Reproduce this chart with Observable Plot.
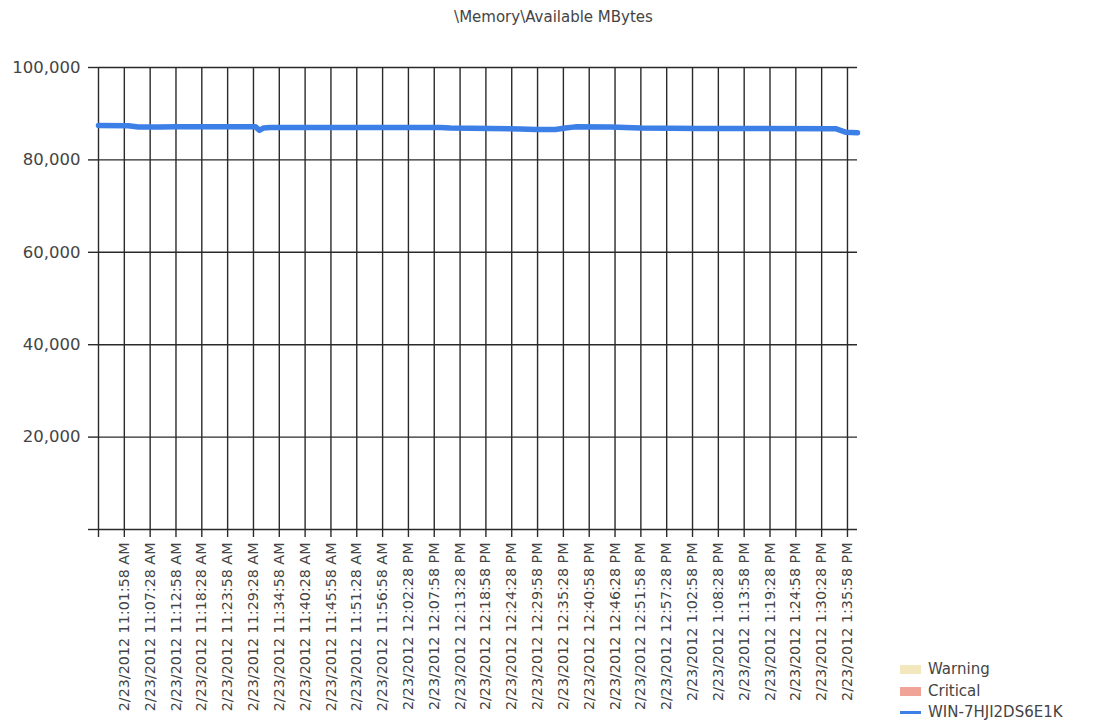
<!DOCTYPE html>
<html>
<head>
<meta charset="utf-8">
<script src="https://cdn.jsdelivr.net/npm/d3@7"></script>
<script src="https://cdn.jsdelivr.net/npm/@observablehq/plot@0.6"></script>
<style>
  body { margin: 0; background: #fff; font-family: "DejaVu Sans", sans-serif; }
  #wrap { position: relative; width: 1093px; height: 727px; overflow: hidden; }
  #title { height: 40px; box-sizing: border-box; padding-top: 9px; padding-left: 14px; text-align: center; font-size: 15px; line-height: 16px; color: #444; }
  #legend { position: absolute; left: 900px; top: 659px; font-size: 15px; color: #444; line-height: 21.5px; }
  #legend .row { display: flex; align-items: center; }
  #legend .sw { width: 21px; height: 9px; margin-right: 7px; }
  #legend .ln { width: 21px; height: 3px; margin: 3px 7px 3px 0; }
</style>
</head>
<body>
<div id="wrap">
  <div id="title"></div>
  <div id="chart"></div>
  <div id="legend"></div>
</div>
<script>
const chartTitle = "\\Memory\\Available MBytes";

// x-axis tick labels
const xTickLabels = [
  "2/23/2012 11:01:58 AM", "2/23/2012 11:07:28 AM", "2/23/2012 11:12:58 AM",
  "2/23/2012 11:18:28 AM", "2/23/2012 11:23:58 AM", "2/23/2012 11:29:28 AM",
  "2/23/2012 11:34:58 AM", "2/23/2012 11:40:28 AM", "2/23/2012 11:45:58 AM",
  "2/23/2012 11:51:28 AM", "2/23/2012 11:56:58 AM", "2/23/2012 12:02:28 PM",
  "2/23/2012 12:07:58 PM", "2/23/2012 12:13:28 PM", "2/23/2012 12:18:58 PM",
  "2/23/2012 12:24:28 PM", "2/23/2012 12:29:58 PM", "2/23/2012 12:35:28 PM",
  "2/23/2012 12:40:58 PM", "2/23/2012 12:46:28 PM", "2/23/2012 12:51:58 PM",
  "2/23/2012 12:57:28 PM", "2/23/2012 1:02:58 PM", "2/23/2012 1:08:28 PM",
  "2/23/2012 1:13:58 PM", "2/23/2012 1:19:28 PM", "2/23/2012 1:24:58 PM",
  "2/23/2012 1:30:28 PM", "2/23/2012 1:35:58 PM"
];

// time range shown
const xRange = ["2/23/2012 10:56:28 AM", "2/23/2012 1:38:06 PM"];

// y-axis ticks
const yTicks = [0, 20000, 40000, 60000, 80000, 100000];

// series: WIN-7HJI2DS6E1K
const seriesName = "WIN-7HJI2DS6E1K";
const seriesTimes = [
  "2/23/2012 10:56:28 AM", "2/23/2012 11:02:49 AM", "2/23/2012 11:04:57 AM",
  "2/23/2012 11:09:38 AM", "2/23/2012 11:12:50 AM", "2/23/2012 11:29:52 AM",
  "2/23/2012 11:30:43 AM", "2/23/2012 11:31:34 AM", "2/23/2012 11:33:04 AM",
  "2/23/2012 12:09:16 PM", "2/23/2012 12:11:24 PM", "2/23/2012 12:19:55 PM",
  "2/23/2012 12:26:19 PM", "2/23/2012 12:29:31 PM", "2/23/2012 12:33:46 PM",
  "2/23/2012 12:35:54 PM", "2/23/2012 12:38:02 PM", "2/23/2012 12:45:29 PM",
  "2/23/2012 12:51:52 PM", "2/23/2012 1:04:39 PM", "2/23/2012 1:33:25 PM",
  "2/23/2012 1:35:32 PM", "2/23/2012 1:38:06 PM"
];
const seriesValues = [
  87450, 87400, 87100,
  87100, 87200, 87200,
  86400, 86900, 87000,
  87000, 86900, 86800,
  86700, 86600, 86600,
  86900, 87150, 87100,
  86900, 86800, 86750,
  86000, 85900
];

// legend entries
const legendLabels = ["Warning", "Critical", seriesName];
const legendColors = ["#f3e8bd", "#f0a397", "#3c7fe6"];

const parse = d3.utcParse("%m/%d/%Y %I:%M:%S %p");
const xTicks = xTickLabels.map(parse);
const xDomain = xRange.map(parse);
const data = seriesTimes.map((t, i) => ({time: parse(t), value: seriesValues[i]}));
const axisTicks = [xDomain[0], ...xTicks];
const axisLabels = ["", ...xTickLabels];

document.getElementById("title").textContent = chartTitle;

const fmtY = d3.format(",");
const gridColor = "#2a2a2a";

const plot = Plot.plot({
  width: 1093,
  height: 687,
  marginLeft: 98,
  marginRight: 236,
  marginTop: 27,
  marginBottom: 198,
  style: {fontFamily: "DejaVu Sans, sans-serif", background: "#fff"},
  x: {type: "utc", domain: xDomain},
  y: {domain: [0, 100000]},
  marks: [
    Plot.ruleY(yTicks, {stroke: gridColor, strokeWidth: 1.4}),
    Plot.ruleX(axisTicks, {stroke: gridColor, strokeWidth: 1.4}),
    Plot.axisY({
      ticks: yTicks,
      tickSize: 10,
      tickPadding: 8,
      tickFormat: d => d === 0 ? "" : fmtY(d),
      fontSize: 16.5,
      fill: "#444",
      stroke: gridColor,
      strokeWidth: 1.4,
      label: null
    }),
    Plot.axisX({
      ticks: axisTicks,
      tickSize: 8,
      tickPadding: 5,
      tickRotate: -90,
      tickFormat: (d, i) => axisLabels[i],
      fontSize: 14.3,
      fill: "#444",
      stroke: gridColor,
      strokeWidth: 1.4,
      label: null
    }),
    Plot.line(data, {x: "time", y: "value", stroke: legendColors[2], strokeWidth: 5.5})
  ]
});
document.getElementById("chart").appendChild(plot);

const legend = document.getElementById("legend");
legendLabels.forEach((lab, i) => {
  const row = document.createElement("div");
  row.className = "row";
  const sw = document.createElement("span");
  sw.className = i === 2 ? "ln" : "sw";
  sw.style.background = legendColors[i];
  const tx = document.createElement("span");
  tx.textContent = lab;
  row.appendChild(sw);
  row.appendChild(tx);
  legend.appendChild(row);
});
</script>
</body>
</html>
